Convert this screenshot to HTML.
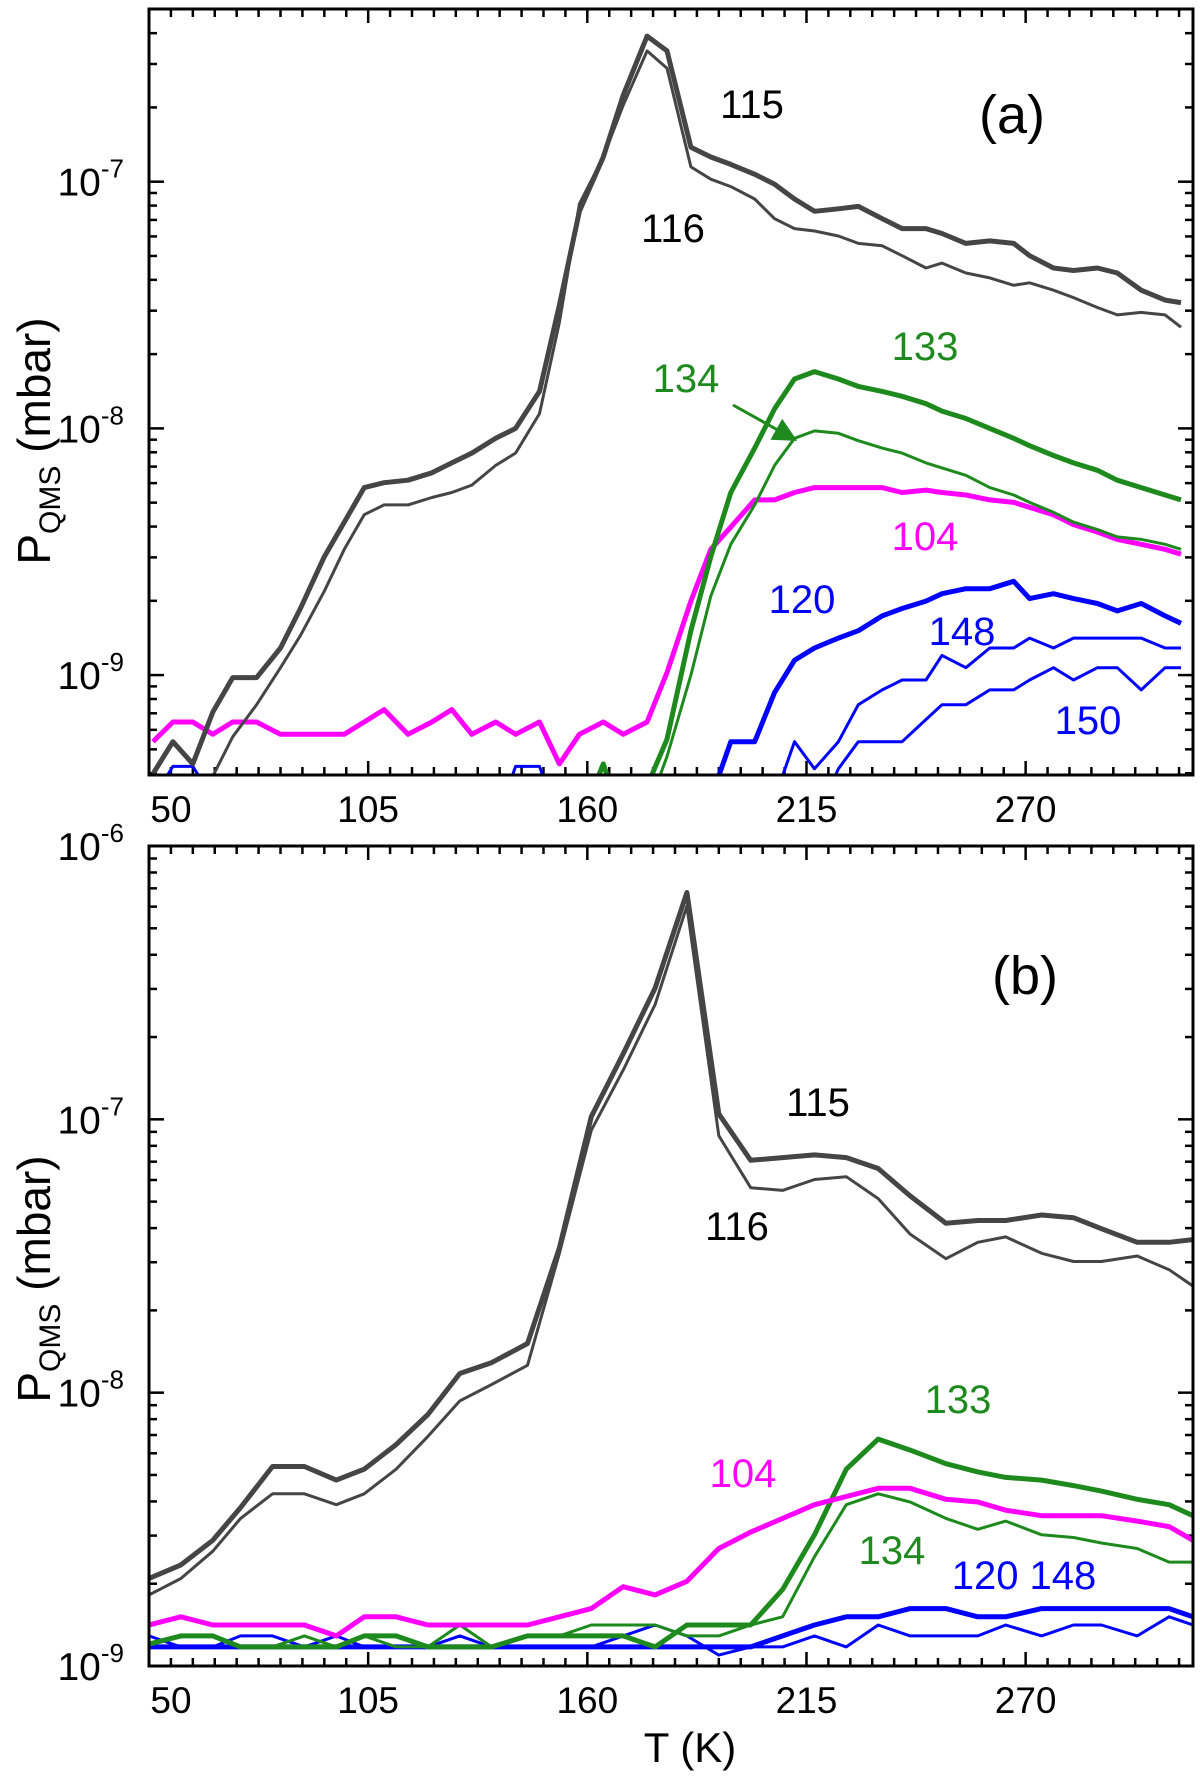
<!DOCTYPE html>
<html><head><meta charset="utf-8"><style>
html,body{margin:0;padding:0;background:#fff;}
svg{display:block;font-family:"Liberation Sans",Arial,sans-serif;}
</style></head><body>
<svg id="chart" width="1200" height="1779" viewBox="0 0 1200 1779" xmlns="http://www.w3.org/2000/svg">
<defs>
<clipPath id="clipA"><rect x="149" y="9" width="1044" height="766"/></clipPath>
<clipPath id="clipB"><rect x="149" y="846" width="1044" height="820"/></clipPath>
<marker id="arrowHead" markerWidth="8" markerHeight="8" refX="6" refY="4" orient="auto" markerUnits="strokeWidth"><path d="M0,0 L8,4 L0,8 z" fill="#1e8a1e"/></marker>
</defs>
<g id="panelA"></g>
<g id="panelB"></g>
</svg>
<script>
// ---------- Panel (a) data: temperature (K) and log10 pressure (mbar) ----------
const tempA = [51,56,61,66,71,77,83,88,94,99,104,109,115,121,126,131,137,142,148,153,158,164,169,175,180,186,191,196,202,207,212,217,223,228,234,239,245,249,255,261,267,271,277,282,288,293,299,305,309];
const a115 = [-9.40,-9.27,-9.36,-9.15,-9.01,-9.01,-8.89,-8.73,-8.52,-8.38,-8.24,-8.22,-8.21,-8.18,-8.14,-8.10,-8.04,-8.00,-7.85,-7.50,-7.12,-6.90,-6.65,-6.41,-6.47,-6.86,-6.90,-6.93,-6.97,-7.01,-7.07,-7.12,-7.11,-7.10,-7.15,-7.19,-7.19,-7.21,-7.25,-7.24,-7.25,-7.30,-7.35,-7.36,-7.35,-7.37,-7.44,-7.48,-7.49];
const a116 = [-9.45,-9.41,-9.41,-9.41,-9.25,-9.12,-8.97,-8.84,-8.66,-8.49,-8.35,-8.31,-8.31,-8.28,-8.26,-8.23,-8.15,-8.10,-7.94,-7.57,-7.09,-6.90,-6.69,-6.47,-6.54,-6.94,-6.99,-7.02,-7.07,-7.15,-7.19,-7.20,-7.22,-7.25,-7.26,-7.30,-7.35,-7.33,-7.37,-7.39,-7.42,-7.41,-7.44,-7.47,-7.51,-7.54,-7.53,-7.54,-7.59];
const a104 = [-9.27,-9.19,-9.19,-9.24,-9.19,-9.19,-9.24,-9.24,-9.24,-9.24,-9.19,-9.14,-9.24,-9.19,-9.14,-9.24,-9.19,-9.24,-9.19,-9.36,-9.24,-9.19,-9.24,-9.19,-8.99,-8.70,-8.49,-8.40,-8.29,-8.29,-8.26,-8.24,-8.24,-8.24,-8.24,-8.26,-8.25,-8.26,-8.27,-8.29,-8.30,-8.32,-8.35,-8.39,-8.42,-8.45,-8.47,-8.49,-8.51];
const a133 = [-9.6,-9.6,-9.6,-9.6,-9.6,-9.6,-9.6,-9.6,-9.6,-9.6,-9.6,-9.6,-9.6,-9.6,-9.6,-9.6,-9.6,-9.6,-9.6,-9.6,-9.6,-9.36,-9.6,-9.45,-9.26,-8.82,-8.52,-8.26,-8.08,-7.92,-7.80,-7.77,-7.80,-7.83,-7.85,-7.87,-7.90,-7.93,-7.96,-8.00,-8.04,-8.07,-8.11,-8.14,-8.17,-8.21,-8.24,-8.27,-8.29];
const a134 = [-9.6,-9.6,-9.6,-9.6,-9.6,-9.6,-9.6,-9.6,-9.6,-9.6,-9.6,-9.6,-9.6,-9.6,-9.6,-9.6,-9.6,-9.6,-9.6,-9.6,-9.6,-9.6,-9.6,-9.55,-9.33,-9.00,-8.68,-8.47,-8.31,-8.15,-8.04,-8.01,-8.02,-8.05,-8.08,-8.10,-8.14,-8.16,-8.19,-8.24,-8.27,-8.30,-8.34,-8.38,-8.41,-8.44,-8.45,-8.47,-8.49];
const a120 = [-9.6,-9.6,-9.6,-9.6,-9.6,-9.6,-9.6,-9.6,-9.6,-9.6,-9.6,-9.6,-9.6,-9.6,-9.6,-9.6,-9.6,-9.6,-9.6,-9.6,-9.6,-9.6,-9.6,-9.6,-9.6,-9.6,-9.5,-9.27,-9.27,-9.07,-8.94,-8.89,-8.85,-8.82,-8.76,-8.73,-8.70,-8.67,-8.65,-8.65,-8.62,-8.69,-8.67,-8.69,-8.71,-8.74,-8.71,-8.76,-8.79];
const a148 = [-9.6,-9.6,-9.6,-9.6,-9.6,-9.6,-9.6,-9.6,-9.6,-9.6,-9.6,-9.6,-9.6,-9.6,-9.6,-9.6,-9.6,-9.6,-9.6,-9.6,-9.6,-9.6,-9.6,-9.6,-9.6,-9.6,-9.6,-9.6,-9.6,-9.5,-9.27,-9.38,-9.27,-9.12,-9.06,-9.02,-9.02,-8.92,-8.97,-8.89,-8.89,-8.85,-8.89,-8.85,-8.85,-8.85,-8.85,-8.89,-8.89];
const a150 = [-9.5,-9.37,-9.37,-9.5,-9.6,-9.6,-9.6,-9.6,-9.6,-9.6,-9.6,-9.5,-9.6,-9.5,-9.6,-9.6,-9.6,-9.37,-9.37,-9.6,-9.6,-9.6,-9.5,-9.6,-9.6,-9.6,-9.6,-9.6,-9.6,-9.6,-9.6,-9.6,-9.38,-9.27,-9.27,-9.27,-9.18,-9.12,-9.12,-9.06,-9.06,-9.02,-8.97,-9.02,-8.97,-8.97,-9.06,-8.97,-8.97];

// ---------- Panel (b) data ----------
const tempB = [50,58,66,73,81,89,97,104,112,120,128,136,145,153,161,169,177,185,193,201,209,217,225,233,241,250,258,265,274,282,289,298,306,312];
const b115 = [-8.68,-8.63,-8.54,-8.42,-8.27,-8.27,-8.32,-8.28,-8.19,-8.08,-7.93,-7.89,-7.82,-7.47,-6.99,-6.76,-6.52,-6.17,-6.98,-7.15,-7.14,-7.13,-7.14,-7.18,-7.28,-7.38,-7.37,-7.37,-7.35,-7.36,-7.40,-7.45,-7.45,-7.44];
const b116 = [-8.74,-8.68,-8.58,-8.46,-8.37,-8.37,-8.41,-8.37,-8.28,-8.16,-8.03,-7.97,-7.90,-7.49,-7.04,-6.82,-6.58,-6.22,-7.06,-7.25,-7.26,-7.22,-7.21,-7.29,-7.42,-7.51,-7.45,-7.43,-7.49,-7.52,-7.52,-7.50,-7.55,-7.61];
const b104 = [-8.85,-8.82,-8.85,-8.85,-8.85,-8.85,-8.89,-8.82,-8.82,-8.85,-8.85,-8.85,-8.85,-8.82,-8.79,-8.71,-8.74,-8.69,-8.57,-8.51,-8.46,-8.41,-8.38,-8.35,-8.35,-8.39,-8.40,-8.43,-8.45,-8.45,-8.45,-8.47,-8.49,-8.54];
const b133 = [-8.92,-8.89,-8.89,-8.93,-8.93,-8.93,-8.93,-8.89,-8.89,-8.93,-8.93,-8.93,-8.89,-8.89,-8.89,-8.89,-8.93,-8.85,-8.85,-8.85,-8.72,-8.52,-8.28,-8.17,-8.21,-8.26,-8.29,-8.31,-8.32,-8.34,-8.36,-8.39,-8.41,-8.45];
const b134 = [-8.92,-8.89,-8.89,-8.93,-8.93,-8.89,-8.93,-8.89,-8.93,-8.93,-8.85,-8.93,-8.89,-8.89,-8.85,-8.85,-8.85,-8.89,-8.89,-8.85,-8.82,-8.60,-8.41,-8.37,-8.40,-8.46,-8.50,-8.47,-8.52,-8.53,-8.55,-8.57,-8.62,-8.62];
const b120 = [-8.93,-8.93,-8.93,-8.93,-8.93,-8.93,-8.93,-8.93,-8.93,-8.93,-8.93,-8.93,-8.93,-8.93,-8.93,-8.93,-8.93,-8.93,-8.93,-8.93,-8.89,-8.85,-8.82,-8.82,-8.79,-8.79,-8.82,-8.82,-8.79,-8.79,-8.79,-8.79,-8.79,-8.82];
const b148 = [-8.89,-8.93,-8.93,-8.89,-8.89,-8.93,-8.89,-8.93,-8.93,-8.93,-8.89,-8.93,-8.93,-8.93,-8.93,-8.89,-8.85,-8.89,-8.96,-8.93,-8.93,-8.89,-8.93,-8.85,-8.89,-8.89,-8.89,-8.85,-8.89,-8.85,-8.85,-8.89,-8.82,-8.85];

// ---------- Tick labels ----------
const xTickValues = [50,105,160,215,270];
const xTickLabels = ["50","105","160","215","270"];
const yExpA = [-9,-8,-7];
const yExpB = [-9,-8,-7,-6];

const NS = "http://www.w3.org/2000/svg";
function el(tag, attrs, parent){const e=document.createElementNS(NS,tag);for(const k in attrs)e.setAttribute(k,attrs[k]);parent.appendChild(e);return e;}

const GRAY="#454545", GREEN="#1e8a1e", MAG="#ff00ff", BLUE="#0000ff";
const L=149, R=1193, XMIN=50, XMAX=312;
function xs(t){return L+(t-XMIN)/(XMAX-XMIN)*(R-L);}

function panel(g, top, bottom, ymin, ymax, clipId, yExps, showXLabels){
  const ys = v => bottom-(v-ymin)/(ymax-ymin)*(bottom-top);
  const tk = el('g',{stroke:'#000','stroke-width':2.5},g);
  
  
  for(let t=XMIN; t<=XMAX+0.01; t+=5.5){
    const x=xs(t); const major=Math.abs(((t-50)/55)-Math.round((t-50)/55))<0.01;
    const len=major?14:8;
    el('line',{x1:x,y1:bottom,x2:x,y2:bottom-len},tk);
    el('line',{x1:x,y1:top,x2:x,y2:top+len},tk);
  }
  for(let d=Math.floor(ymin); d<=Math.ceil(ymax); d++){
    for(let m=1;m<=9;m++){
      const v=d+Math.log10(m); if(v<ymin-1e-6||v>ymax+1e-6) continue;
      const y=ys(v); const len=m===1?15:8;
      el('line',{x1:L,y1:y,x2:L+len,y2:y},tk);
      el('line',{x1:R,y1:y,x2:R-len,y2:y},tk);
    }
  }
  yExps.forEach(e=>{
    const t=el('text',{x:124,y:ys(e)+14,'text-anchor':'end','font-size':39,fill:'#000'},g);
    
    
    t.appendChild(document.createTextNode('10'));
    const s=el('tspan',{'font-size':26,dy:-18},t); s.textContent=String(e);
  });
  if(showXLabels){
    xTickValues.forEach((v,i)=>{
      const x = i===0? xs(v)+22 : xs(v);
      const t=el('text',{x:x,y:bottom+47,'text-anchor':'middle','font-size':37,fill:'#000'},g);
      
      
      t.textContent=xTickLabels[i];
    });
  }
  return {ys, clip:el('g',{'clip-path':'url(#'+clipId+')'},g)};
}

function series(p, temps, vals, color, width, name){
  const pts=temps.map((t,i)=>xs(t).toFixed(1)+','+p.ys(vals[i]).toFixed(1)).join(' ');
  const pl=el('polyline',{points:pts,fill:'none',stroke:color,'stroke-width':width,'stroke-linejoin':'round'},p.clip);
  
  
}
function label(g,x,y,txt,color,size,name){
  const t=el('text',{x:x,y:y,'text-anchor':'middle','font-size':size,fill:color},g);
  
  
  t.textContent=txt;
}
function frame(g,top,bottom){
  const r=el('rect',{x:L,y:top,width:R-L,height:bottom-top,fill:'none',stroke:'#000','stroke-width':3},g);
  
  
}
function yTitle(g,cy){
  const t=el('text',{x:0,y:0,'text-anchor':'middle','font-size':46,fill:'#000',transform:'translate(50,'+cy+') rotate(-90)'},g);
  
  
  t.appendChild(document.createTextNode('P'));
  const s=el('tspan',{'font-size':30,dy:10},t); s.textContent='QMS';
  const s2=el('tspan',{dy:-10},t); s2.textContent=' (mbar)';
}

// Panel A
const gA=document.getElementById('panelA');
const pA=panel(gA,9,775,-9.405,-6.30,'clipA',yExpA,true);
series(pA,tempA,a150,BLUE,3,'line-150');
series(pA,tempA,a148,BLUE,3,'line-148');
series(pA,tempA,a120,BLUE,5,'line-120');
series(pA,tempA,a104,MAG,5,'line-104');
series(pA,tempA,a134,GREEN,3,'line-134');
series(pA,tempA,a133,GREEN,5,'line-133');
series(pA,tempA,a116,GRAY,3,'line-116');
series(pA,tempA,a115,GRAY,5,'line-115');
frame(gA,9,775);
yTitle(gA,441);
label(gA,752,118,'115','#000',40,'label-115');
label(gA,673,242,'116','#000',40,'label-116');
label(gA,925,360,'133',GREEN,40,'label-133');
label(gA,686,392,'134',GREEN,40,'label-134');
const arr=el('line',{x1:733,y1:405,x2:792,y2:438,stroke:GREEN,'stroke-width':3,'marker-end':'url(#arrowHead)'},gA);


label(gA,925,550,'104',MAG,40,'label-104');
label(gA,802,613,'120',BLUE,40,'label-120');
label(gA,962,645,'148',BLUE,40,'label-148');
label(gA,1088,734,'150',BLUE,40,'label-150');
label(gA,1012,133,'(a)','#000',54,'panel-label-a');

// Panel B
const gB=document.getElementById('panelB');
const pB=panel(gB,846,1666,-9,-6,'clipB',yExpB,true);
series(pB,tempB,b148,BLUE,3,'line-148');
series(pB,tempB,b120,BLUE,5,'line-120');
series(pB,tempB,b134,GREEN,3,'line-134');
series(pB,tempB,b133,GREEN,5,'line-133');
series(pB,tempB,b104,MAG,5,'line-104');
series(pB,tempB,b116,GRAY,3,'line-116');
series(pB,tempB,b115,GRAY,5,'line-115');
frame(gB,846,1666);
yTitle(gB,1279);
label(gB,818,1116,'115','#000',40,'label-115');
label(gB,737,1240,'116','#000',40,'label-116');
label(gB,958,1413,'133',GREEN,40,'label-133');
label(gB,743,1487,'104',MAG,40,'label-104');
label(gB,892,1564,'134',GREEN,40,'label-134');
label(gB,1024,1589,'120 148',BLUE,40,'label-120-148');
label(gB,1025,994,'(b)','#000',54,'panel-label-b');
const xt=el('text',{x:690,y:1762,'text-anchor':'middle','font-size':42,fill:'#000'},gB);


xt.textContent='T (K)';
</script>
</body></html>
